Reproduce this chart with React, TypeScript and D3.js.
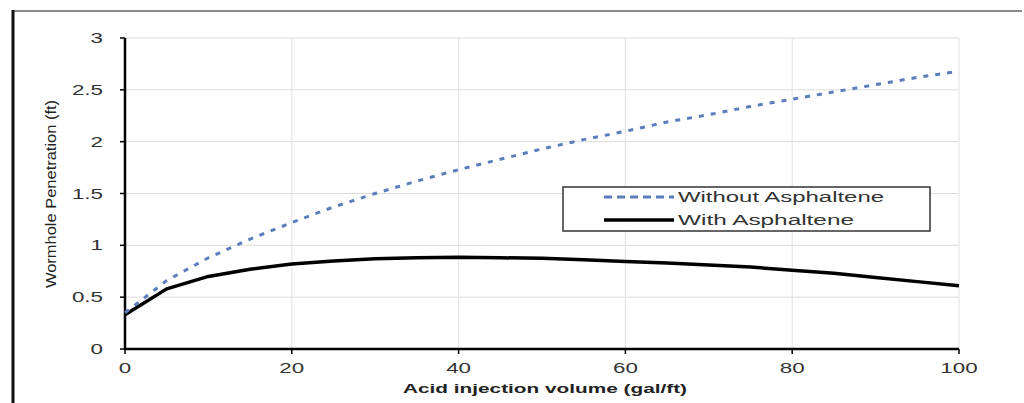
import React from 'react'
import * as d3 from 'd3'

const volumes = [0, 5, 10, 15, 20, 25, 30, 35, 40, 45, 50, 55, 60, 65, 70, 75, 80, 85, 90, 95, 100]
const withoutAsphaltene = [0.35, 0.66, 0.88, 1.06, 1.22, 1.37, 1.50, 1.62, 1.73, 1.83, 1.93, 2.02, 2.10, 2.19, 2.26, 2.34, 2.41, 2.48, 2.55, 2.62, 2.68]
const withAsphaltene = [0.33, 0.58, 0.70, 0.77, 0.82, 0.85, 0.87, 0.88, 0.885, 0.88, 0.875, 0.86, 0.845, 0.83, 0.81, 0.79, 0.76, 0.73, 0.69, 0.65, 0.61]
const xTicks = [0, 20, 40, 60, 80, 100]
const yTicks = [0, 0.5, 1, 1.5, 2, 2.5, 3]
const seriesNames = ['Without Asphaltene', 'With Asphaltene']

const font = 'Arial, "Liberation Sans", sans-serif'

// the picture is stretched sideways, so the text is too
function Wide(props: { x: number, y: number, anchor?: string, size?: number, weight?: string, children: any }) {
  return (
    <text transform={`translate(${props.x},${props.y}) scale(1.6,1)`} textAnchor={props.anchor || 'start'}
      fontSize={props.size || 14} fontWeight={props.weight || 'normal'} fontFamily={font} fill='#333'>
      {props.children}
    </text>
  )
}

export default function App() {
  const x = d3.scaleLinear().domain([0, 100]).range([125, 959])
  const y = d3.scaleLinear().domain([0, 3]).range([349, 38])

  const line = d3.line<number>()
    .x((d, i) => x(volumes[i]))
    .y(d => y(d))

  return (
    <svg width={1024} height={403} style={{ position: 'absolute', left: 0, top: 0 }}>
      <rect width={1024} height={403} fill='#fff' />
      {/* outer frame */}
      <line x1={12} x2={1022} y1={11} y2={11} stroke='#8a8a8a' strokeWidth={2} />
      <line x1={13} x2={13} y1={10} y2={403} stroke='#111' strokeWidth={3} />

      {/* grid */}
      {yTicks.slice(1).map(t => (
        <line key={'gy' + t} x1={x(0)} x2={x(100)} y1={y(t)} y2={y(t)} stroke='#dcdcdc' strokeWidth={1} />
      ))}
      {xTicks.slice(1).map(t => (
        <line key={'gx' + t} x1={x(t)} x2={x(t)} y1={y(0)} y2={y(3)} stroke='#e2e2e2' strokeWidth={1} />
      ))}

      {/* axes */}
      <line x1={x(0)} x2={x(0)} y1={y(0) + 1} y2={y(3)} stroke='#000' strokeWidth={2.5} />
      <line x1={x(0) - 1} x2={x(100)} y1={y(0)} y2={y(0)} stroke='#000' strokeWidth={2.5} />
      {yTicks.map(t => (
        <g key={'ty' + t}>
          <line x1={x(0) - 5} x2={x(0)} y1={y(t)} y2={y(t)} stroke='#000' strokeWidth={1.5} />
          <Wide x={x(0) - 22} y={y(t) + 5} anchor='end'>{t}</Wide>
        </g>
      ))}
      {xTicks.map(t => (
        <g key={'tx' + t}>
          <line x1={x(t)} x2={x(t)} y1={y(0)} y2={y(0) + 5} stroke='#000' strokeWidth={1.5} />
          <Wide x={x(t)} y={y(0) + 24} anchor='middle'>{t}</Wide>
        </g>
      ))}

      {/* series */}
      <path d={line(withAsphaltene) || ''} fill='none' stroke='#000' strokeWidth={3.5} strokeLinejoin='round' />
      <path d={line(withoutAsphaltene) || ''} fill='none' stroke='#5b7dbc' strokeWidth={3} strokeDasharray='5,7' />

      {/* axis titles */}
      <text x={545} y={393} textAnchor='middle' fontSize={13.5} fontWeight='bold' fontFamily={font} fill='#222'
        textLength={284} lengthAdjust='spacingAndGlyphs'>Acid injection volume (gal/ft)</text>
      <text transform='translate(56,194) rotate(-90)' textAnchor='middle' fontSize={14} fontFamily={font} fill='#222'
        textLength={188} lengthAdjust='spacingAndGlyphs'>Wormhole Penetration (ft)</text>

      {/* legend */}
      <rect x={563} y={187} width={367} height={44} fill='#fff' stroke='#333' strokeWidth={1.5} />
      <line x1={604} x2={674} y1={197} y2={197} stroke='#5b7dbc' strokeWidth={3} strokeDasharray='8,5' />
      <text x={678} y={202} fontSize={14} fontFamily={font} fill='#333' textLength={206} lengthAdjust='spacingAndGlyphs'>{seriesNames[0]}</text>
      <line x1={604} x2={674} y1={220} y2={220} stroke='#000' strokeWidth={3.5} />
      <text x={678} y={225} fontSize={14} fontFamily={font} fill='#333' textLength={176} lengthAdjust='spacingAndGlyphs'>{seriesNames[1]}</text>
    </svg>
  )
}
